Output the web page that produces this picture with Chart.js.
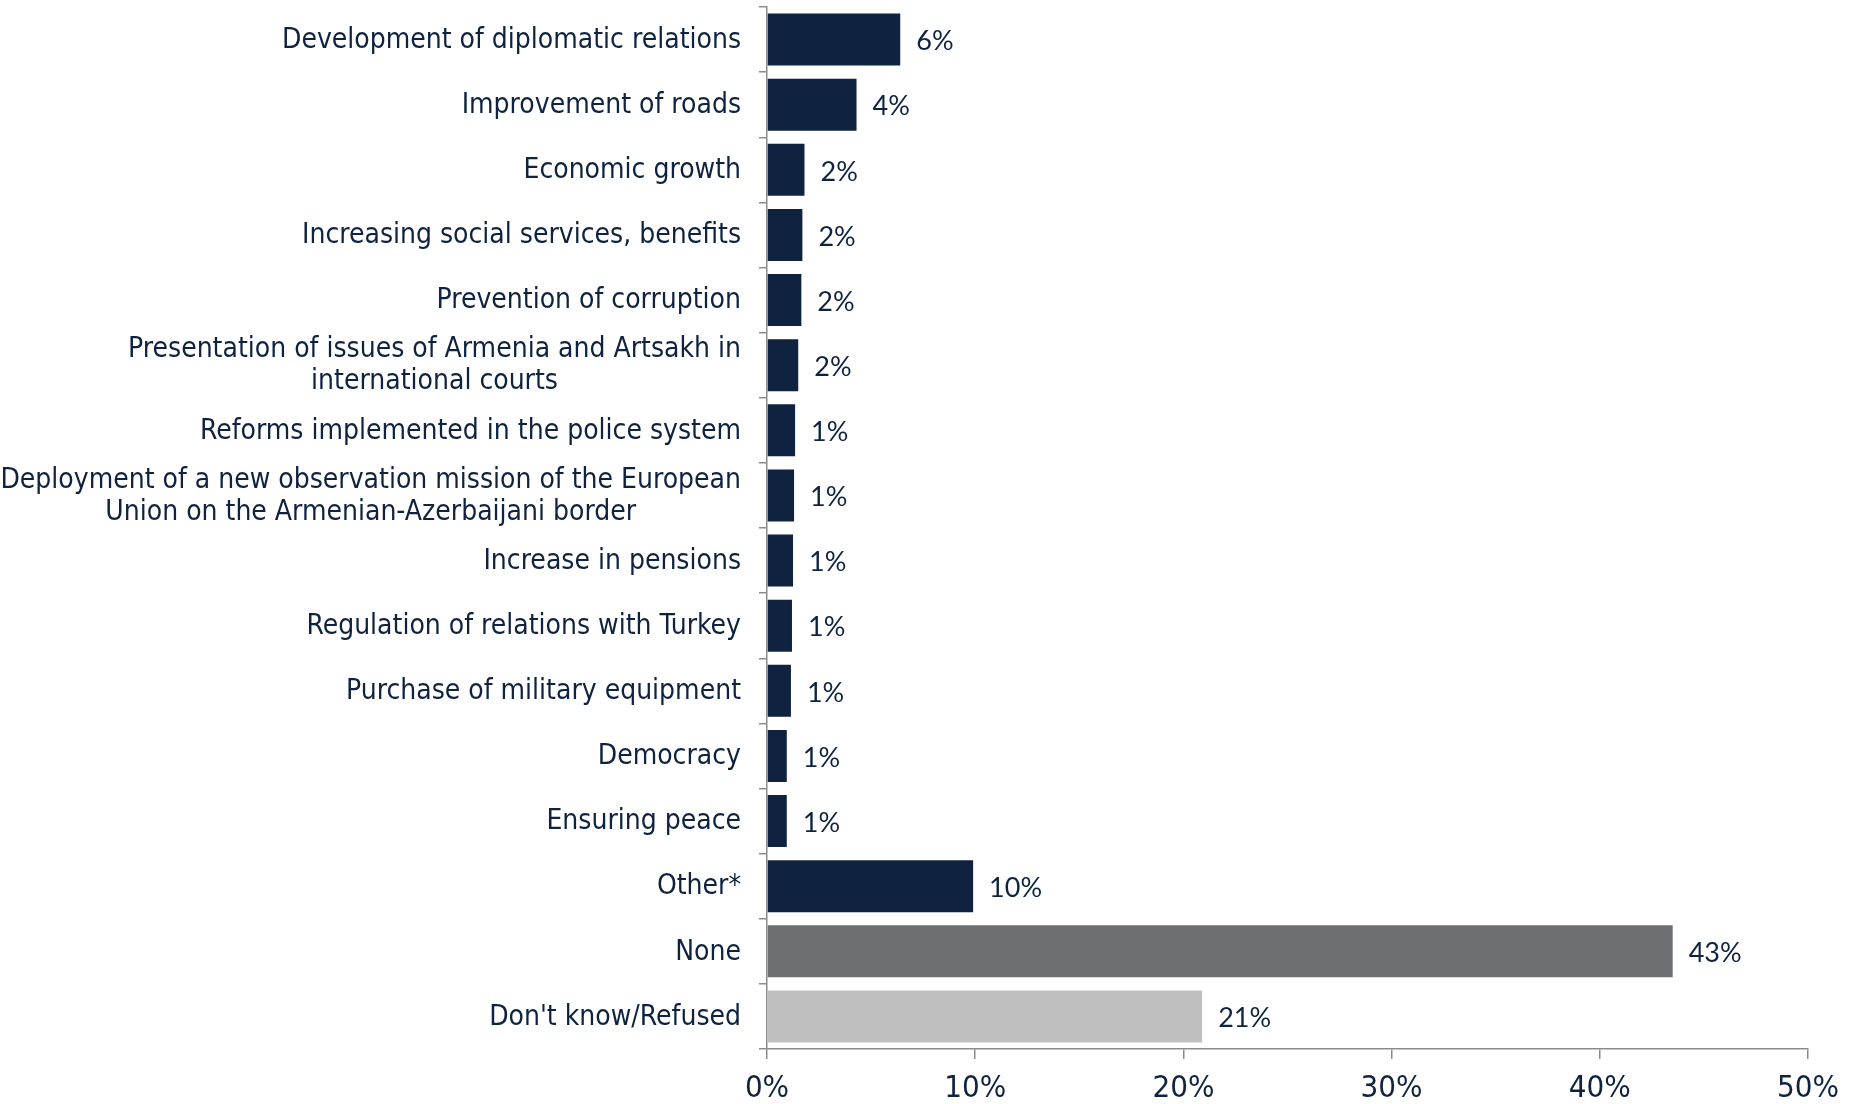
<!DOCTYPE html>
<html>
<head>
<meta charset="utf-8">
<script src="https://cdn.jsdelivr.net/npm/chart.js@4"></script>
<style>
  html, body { margin: 0; padding: 0; background: #fff; }
  #wrap { width: 1853px; height: 1104px; position: relative; }
</style>
</head>
<body>
<div id="wrap"><canvas id="grafico"></canvas></div>
<script>
const categorias = [
    "Development of diplomatic relations",
    "Improvement of roads",
    "Economic growth",
    "Increasing social services, benefits",
    "Prevention of corruption",
    ["Presentation of issues of Armenia and Artsakh in", "international courts"],
    "Reforms implemented in the police system",
    ["Deployment of a new observation mission of the European", "Union on the Armenian-Azerbaijani border"],
    "Increase in pensions",
    "Regulation of relations with Turkey",
    "Purchase of military equipment",
    "Democracy",
    "Ensuring peace",
    "Other*",
    "None",
    "Don't know/Refused"
];

const valores = [6.4, 4.3, 1.8, 1.7, 1.65, 1.5, 1.35, 1.3, 1.25, 1.2, 1.15, 0.95, 0.95, 9.9, 43.5, 20.9];
const etiquetas = ["6%", "4%", "2%", "2%", "2%", "2%", "1%", "1%", "1%", "1%", "1%", "1%", "1%", "10%", "43%", "21%"];
const ticksX = [0, 10, 20, 30, 40, 50];

const azul = "#0f2340";
const colores = valores.map((v, i) => i === 14 ? "#6d6e71" : i === 15 ? "#bfbfbf" : azul);

// etiquetas de valor al final de cada barra
const etiquetasBarras = {
    id: "etiquetasBarras",
    afterDatasetsDraw(chart) {
        const ctx = chart.ctx;
        const meta = chart.getDatasetMeta(0);
        ctx.save();
        ctx.font = "27px Lato";
        ctx.fillStyle = azul;
        ctx.textAlign = "left";
        ctx.textBaseline = "middle";
        meta.data.forEach((bar, i) => {
            ctx.fillText(etiquetas[i], bar.x + 16, bar.y + 2);
        });
        ctx.restore();
    }
};

// categorias del eje y: bloque alineado a la derecha, lineas centradas
const etiquetasCategorias = {
    id: "etiquetasCategorias",
    afterDraw(chart) {
        const ctx = chart.ctx;
        const escala = chart.scales.y;
        const derecha = escala.right - 26;
        const altoLinea = 32;
        ctx.save();
        ctx.font = "28px 'DejaVu Sans Condensed'";
        ctx.fillStyle = azul;
        ctx.textAlign = "center";
        ctx.textBaseline = "middle";
        categorias.forEach((cat, i) => {
            const lineas = Array.isArray(cat) ? cat : [cat];
            const ancho = Math.max(...lineas.map(l => ctx.measureText(l).width));
            const y = escala.getPixelForTick(i);
            const inicio = y - (lineas.length - 1) * altoLinea / 2 + 1;
            lineas.forEach((l, j) => {
                ctx.fillText(l, derecha - ancho / 2, inicio + j * altoLinea);
            });
        });
        ctx.restore();
    }
};

const ctx = document.getElementById("grafico").getContext("2d");
new Chart(ctx, {
    type: "bar",
    data: {
        labels: categorias,
        datasets: [{
            data: valores,
            backgroundColor: colores,
            barPercentage: 0.8,
            categoryPercentage: 1
        }]
    },
    options: {
        indexAxis: "y",
        responsive: true,
        maintainAspectRatio: false,
        animation: false,
        layout: { padding: { top: 7, right: 45, left: 0, bottom: 0 } },
        plugins: {
            legend: { display: false },
            tooltip: { enabled: false }
        },
        scales: {
            x: {
                min: 0,
                max: 50,
                afterBuildTicks: s => { s.ticks = ticksX.map(v => ({ value: v })); },
                afterFit: s => { s.height = 55; },
                border: { color: "#8c8c8c", width: 1.5 },
                grid: { drawOnChartArea: false, drawTicks: true, tickLength: 10, color: "#8c8c8c", lineWidth: 1.5 },
                ticks: {
                    padding: 11,
                    color: azul,
                    font: { family: "'DejaVu Sans Condensed'", size: 31 },
                    callback: v => v + "%"
                }
            },
            y: {
                afterFit: s => { s.width = 767; s.paddingTop = 0; s.paddingBottom = 0; },
                border: { color: "#8c8c8c", width: 1.5 },
                grid: { drawOnChartArea: false, drawTicks: true, tickLength: 8, color: "#8c8c8c", lineWidth: 1.5, offset: true },
                ticks: {
                    autoSkip: false,
                    display: false
                }
            }
        }
    },
    plugins: [etiquetasBarras, etiquetasCategorias]
});
</script>
</body>
</html>
